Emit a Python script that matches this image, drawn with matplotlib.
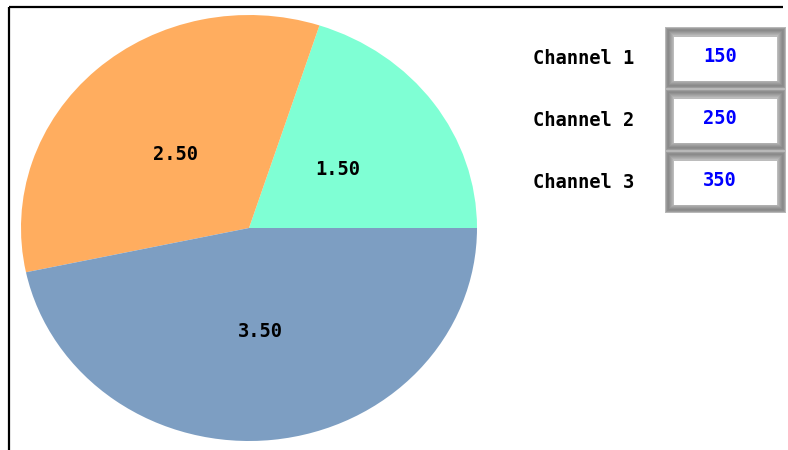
import matplotlib
matplotlib.use("Agg")
import matplotlib.pyplot as plt
from matplotlib.patches import Rectangle

# --- data ---
slice_values = [1.5, 2.5, 3.5]
slice_colors = ['#7fffd4', '#ffad5f', '#7d9ec2']
channel_names = ['Channel 1', 'Channel 2', 'Channel 3']
channel_readings = [150, 250, 350]

W, H = 788, 450
fig = plt.figure(figsize=(W / 100, H / 100), dpi=100)
fig.patch.set_facecolor('white')

mono = ['DejaVu Sans Mono']

# pie axes (stretched a little wider than tall, as in the reference)
px_l, px_r, px_t, px_b = 21, 477, 15, 441
ax = fig.add_axes([px_l / W, (H - px_b) / H, (px_r - px_l) / W, (px_b - px_t) / H])
wedges, texts = ax.pie(slice_values, colors=slice_colors, startangle=0,
                       counterclock=True, labels=[f'{v:.2f}' for v in slice_values],
                       labeldistance=0.48, radius=1.0,
                       wedgeprops=dict(linewidth=0))
for t in texts:
    t.set_fontfamily(mono)
    t.set_fontsize(13.5)
    t.set_fontweight('bold')
    t.set_ha('center')
    t.set_va('center_baseline')
ax.set_xlim(-1, 1)
ax.set_ylim(-1, 1)
ax.set_aspect('auto')
ax.axis('off')

# overlay in pixel coordinates for frame and channel boxes
ov = fig.add_axes([0, 0, 1, 1], zorder=5)
ov.set_xlim(0, W)
ov.set_ylim(H, 0)
ov.axis('off')
ov.patch.set_alpha(0)

ov.plot([9.5, 9.5], [7, H], color='black', lw=1.6, solid_capstyle='butt')
ov.plot([9, 783], [6.5, 6.5], color='black', lw=1.6, solid_capstyle='butt')

box_x0, box_x1 = 665, 786
cell_h = 62
top = 27
rings = ['#b8b8b8', '#9c9c9c', '#8e8e8e', '#8a8a8a', '#929292', '#9c9c9c', '#a6a6a6', '#b0b0b0', '#bcbcbc']
for i, (name, val) in enumerate(zip(channel_names, channel_readings)):
    y0 = top + cell_h * i
    for k, c in enumerate(rings):
        ov.add_patch(Rectangle((box_x0 + k, y0 + k), (box_x1 - box_x0) - 2 * k, cell_h - 2 * k,
                               facecolor=c, edgecolor='none'))
    ov.add_patch(Rectangle((674, y0 + 10), 103, 44, facecolor='white', edgecolor='none'))
    ov.text(720, y0 + 30, str(val), color='#0000ff', fontsize=13.5, fontweight='bold',
            family=mono, ha='center', va='center')
    ov.text(533, y0 + 32, name, color='black', fontsize=13.5, fontweight='bold',
            family=mono, ha='left', va='center')

fig.savefig('out.png', dpi=100)
